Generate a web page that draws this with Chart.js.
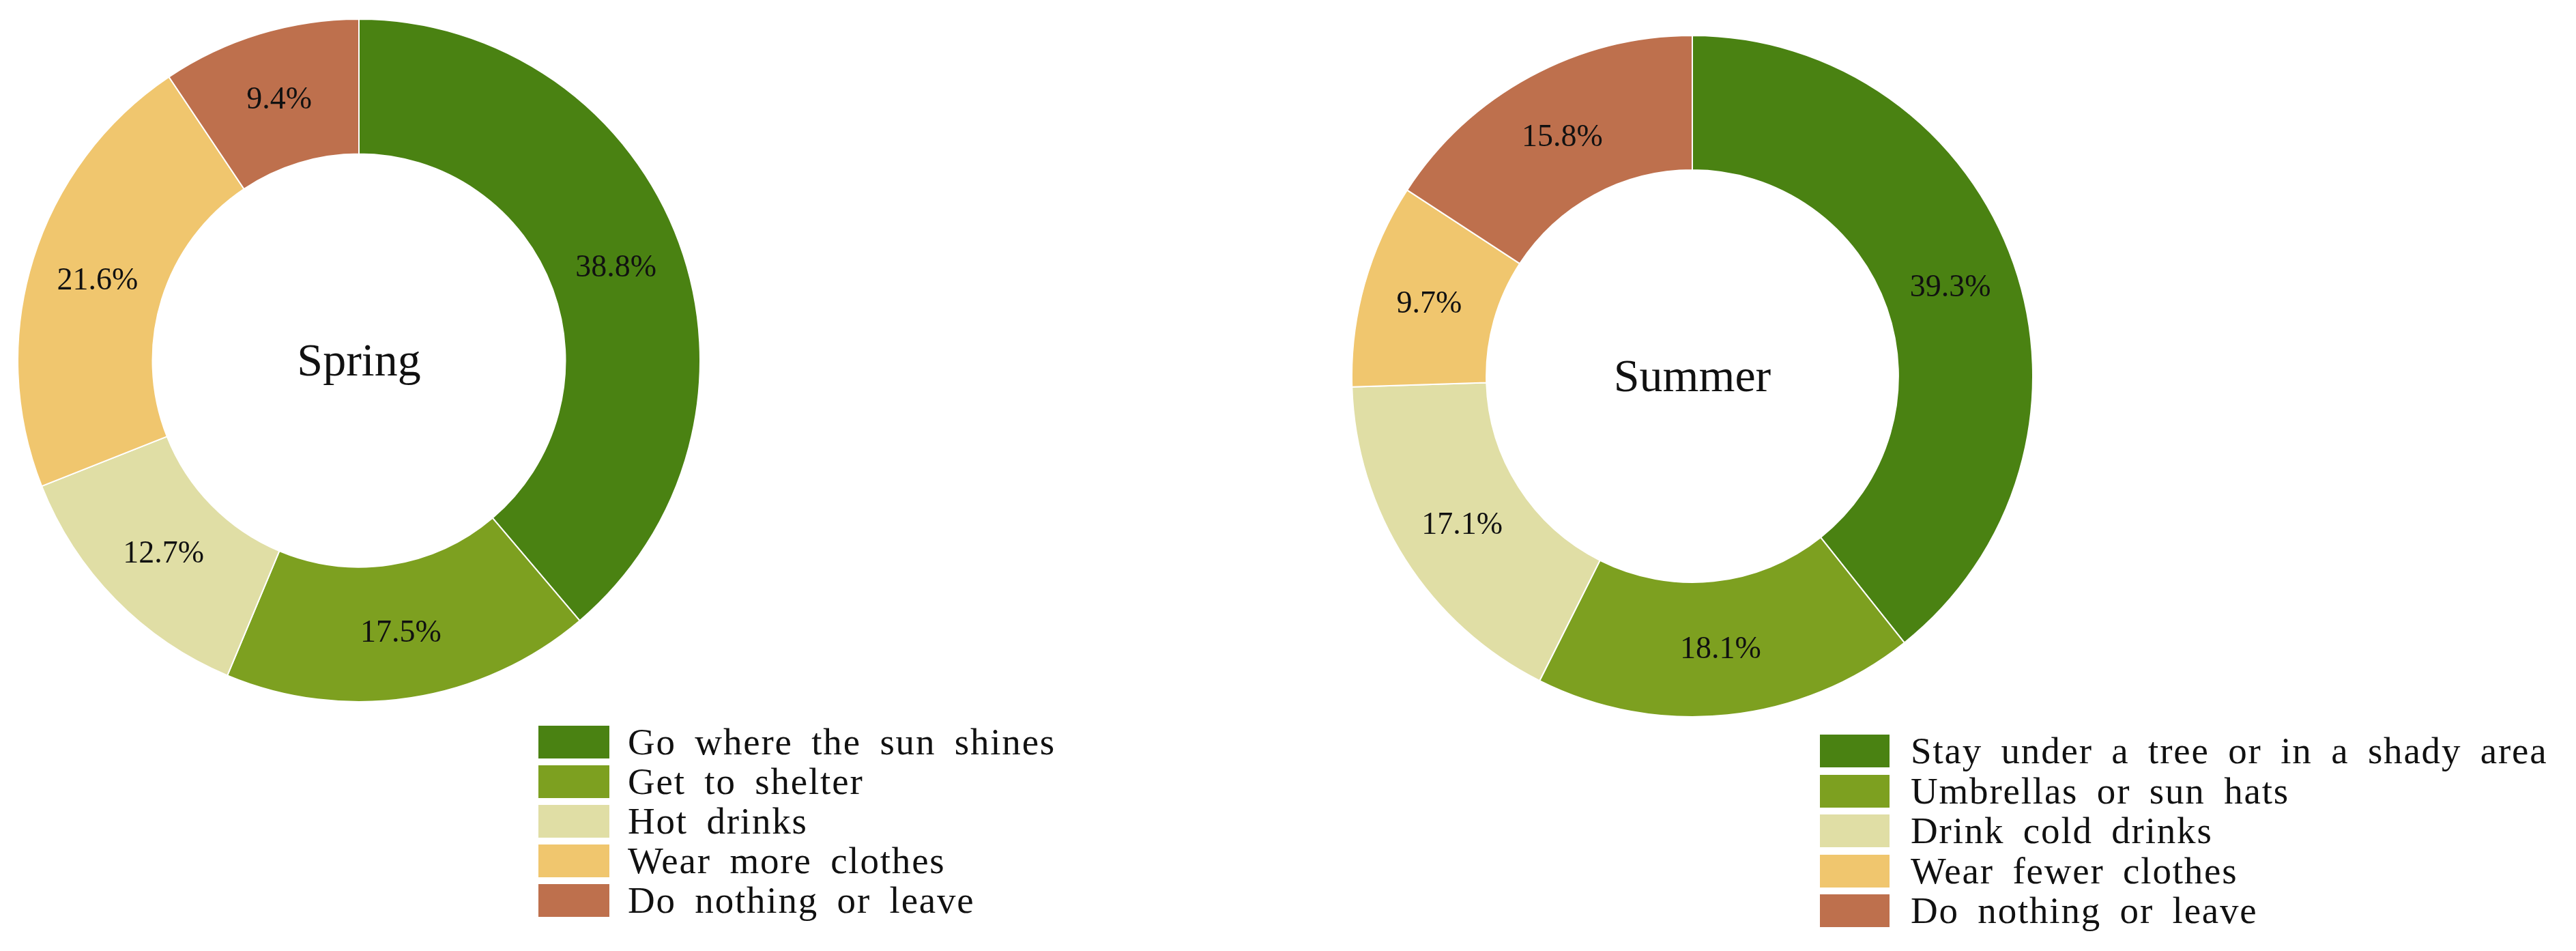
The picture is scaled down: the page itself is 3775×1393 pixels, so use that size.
<!DOCTYPE html>
<html>
<head>
<meta charset="utf-8">
<script src="https://cdn.jsdelivr.net/npm/chart.js@4.4.1/dist/chart.umd.min.js"></script>
<style>
html, body { margin: 0; padding: 0; background: #ffffff; }
#wrap { position: relative; width: 3775px; height: 1393px; overflow: hidden; background: #ffffff; }
.pie { position: absolute; }
.legend { position: absolute; font-family: "Liberation Serif", "DejaVu Serif", serif; font-size: 55px; color: #111111; word-spacing: 12px; letter-spacing: 1.8px; }
.legend .row { position: absolute; left: 0; height: 48px; white-space: nowrap; }
.legend .box { position: absolute; left: 0; top: 0; height: 48px; }
.legend .txt { position: absolute; top: 0; line-height: 48px; height: 48px; }
</style>
</head>
<body>
<div id="wrap">
  <canvas id="spring" class="pie" width="1002" height="1002" style="left:25px;top:27px;width:1002px;height:1002px;"></canvas>
  <canvas id="summer" class="pie" width="1000" height="1000" style="left:1980px;top:51px;width:1000px;height:1000px;"></canvas>
  <div id="legSpring" class="legend" style="left:789px;top:1063px;"></div>
  <div id="legSummer" class="legend" style="left:2667px;top:1076px;"></div>
</div>
<script>
// ---- data ----
const springLabels = ["Go where the sun shines", "Get to shelter", "Hot drinks", "Wear more clothes", "Do nothing or leave"];
const springValues = [38.8, 17.5, 12.7, 21.6, 9.4];
const summerLabels = ["Stay under a tree or in a shady area", "Umbrellas or sun hats", "Drink cold drinks", "Wear fewer clothes", "Do nothing or leave"];
const summerValues = [39.3, 18.1, 17.1, 9.7, 15.8];
const panelTitles = ["Spring", "Summer"];
const sliceColors = ["#4A8212", "#7DA020", "#E0DEA5", "#F0C66E", "#BE704D"];

// ---- plugin: percentage labels + centre title ----
const donutText = {
  id: 'donutText',
  afterDatasetsDraw(chart, args, opts) {
    const ctx = chart.ctx;
    const meta = chart.getDatasetMeta(0);
    const values = chart.data.datasets[0].data;
    const total = values.reduce((a, b) => a + b, 0);
    ctx.save();
    ctx.fillStyle = '#111111';
    ctx.textAlign = 'center';
    ctx.textBaseline = 'alphabetic';
    ctx.font = '46px "Liberation Serif", "DejaVu Serif", serif';
    meta.data.forEach((arc, i) => {
      const p = arc.tooltipPosition();
      const pct = (values[i] / total * 100).toFixed(1) + '%';
      ctx.fillText(pct, p.x, p.y + 15);
    });
    const c = meta.data[0];
    ctx.font = '68px "Liberation Serif", "DejaVu Serif", serif';
    ctx.fillText(opts.title, c.x, c.y + 22);
    ctx.restore();
  }
};

function makeDonut(id, labels, values, title) {
  return new Chart(document.getElementById(id), {
    type: 'doughnut',
    data: {
      labels: labels,
      datasets: [{
        data: values,
        backgroundColor: sliceColors,
        borderColor: '#ffffff',
        borderWidth: 2,
        hoverOffset: 0
      }]
    },
    options: {
      responsive: false,
      animation: false,
      cutout: '60.5%',
      layout: { padding: 0 },
      plugins: {
        legend: { display: false },
        tooltip: { enabled: false },
        donutText: { title: title }
      }
    },
    plugins: [donutText]
  });
}

const c1 = makeDonut('spring', springLabels, springValues, panelTitles[0]);
const c2 = makeDonut('summer', summerLabels, summerValues, panelTitles[1]);

function buildLegend(elId, labels, boxW, textX, pitch) {
  const el = document.getElementById(elId);
  labels.forEach((lab, i) => {
    const row = document.createElement('div');
    row.className = 'row';
    row.style.top = (i * pitch) + 'px';
    const box = document.createElement('div');
    box.className = 'box';
    box.style.width = boxW + 'px';
    box.style.background = sliceColors[i];
    const t = document.createElement('div');
    t.className = 'txt';
    t.style.left = textX + 'px';
    t.textContent = lab;
    row.appendChild(box);
    row.appendChild(t);
    el.appendChild(row);
  });
}
buildLegend('legSpring', springLabels, 104, 131, 58);
buildLegend('legSummer', summerLabels, 102, 133, 58.5);
</script>
</body>
</html>
